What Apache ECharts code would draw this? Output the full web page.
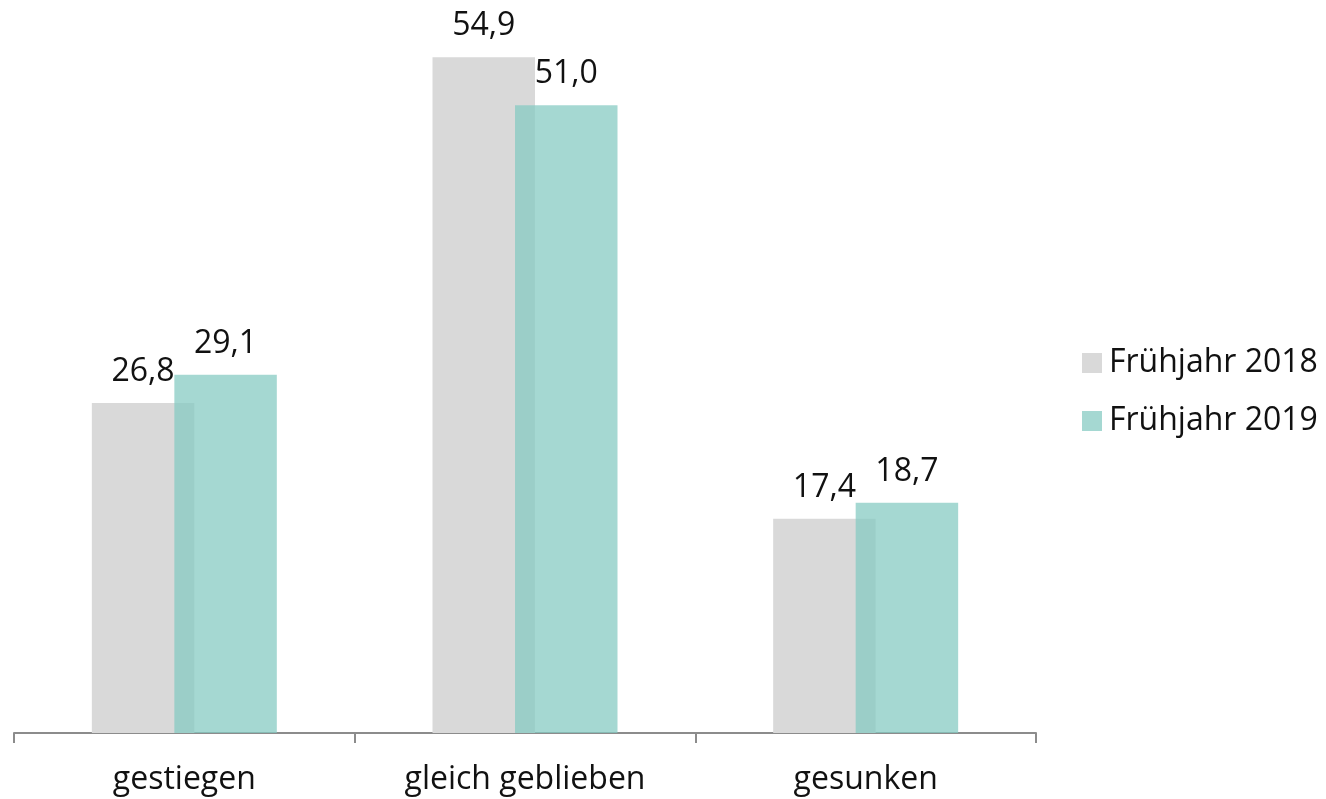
<!DOCTYPE html>
<html>
<head>
<meta charset="utf-8">
<script src="https://cdn.jsdelivr.net/npm/echarts@6/dist/echarts.min.js"></script>
<style>html,body{margin:0;padding:0;background:#fff}#c{width:1326px;height:799px}</style>
</head>
<body>
<div id="c"></div>
<script>
var categories = ['gestiegen', 'gleich geblieben', 'gesunken'];
var seriesNames = ['Frühjahr 2018', 'Frühjahr 2019'];
var values2018 = [26.8, 54.9, 17.4];
var values2019 = [29.1, 51.0, 18.7];

var chart = echarts.init(document.getElementById('c'));
var fmt = function (p) { return p.value.toFixed(1).replace('.', ','); };
var font = '"Open Sans", "Noto Sans", sans-serif';
chart.setOption({
  animation: false,
  textStyle: { fontFamily: font },
  grid: { left: 14, right: 290, top: 56, bottom: 66, containLabel: false },
  legend: {
    orient: 'vertical',
    left: 1077,
    top: 342,
    icon: 'rect',
    itemWidth: 20,
    itemHeight: 20,
    itemGap: 26,
    textStyle: { fontSize: 32, color: '#111', fontFamily: font, padding: [0, 0, 0, 2] },
    data: seriesNames
  },
  xAxis: {
    type: 'category',
    data: categories,
    axisLine: { lineStyle: { color: '#8c8c8c', width: 2 } },
    axisTick: { show: true, length: 10, lineStyle: { color: '#8c8c8c', width: 2 } },
    axisLabel: { fontSize: 32, color: '#111', margin: 31, fontFamily: font }
  },
  yAxis: {
    type: 'value', min: 0, max: 55,
    show: false,
    splitLine: { show: false }
  },
  series: [
    {
      name: seriesNames[0], type: 'bar', data: values2018,
      itemStyle: { color: '#d9d9d9' },
      barGap: '-19.5%', barCategoryGap: '45.7%',
      label: { show: true, position: 'top', distance: 15, fontSize: 32, color: '#111', formatter: fmt, fontFamily: font }
    },
    {
      name: seriesNames[1], type: 'bar', data: values2019,
      itemStyle: { color: 'rgba(134,202,194,0.74)' },
      label: { show: true, position: 'top', distance: 15, fontSize: 32, color: '#111', formatter: fmt, fontFamily: font }
    }
  ]
});
</script>
</body>
</html>
